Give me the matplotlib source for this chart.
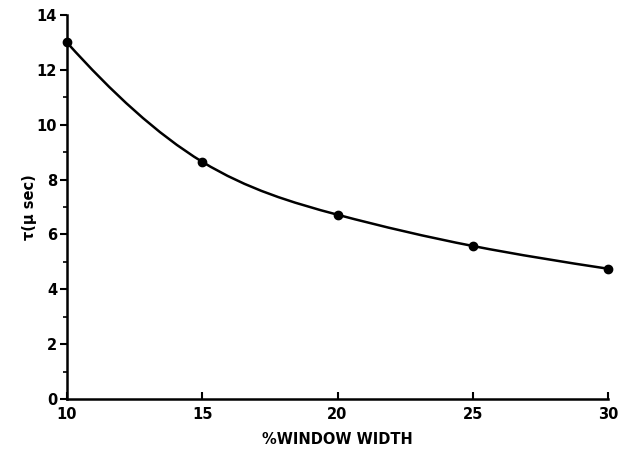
import numpy as np
import matplotlib
matplotlib.use("Agg")
import matplotlib.pyplot as plt
from matplotlib.path import Path
from matplotlib.patches import PathPatch

window_width = [10, 15, 20, 25, 30]
tau_usec = [13.0, 8.65, 6.72, 5.58, 4.75]
x_ticks = [10, 15, 20, 25, 30]
y_ticks = [0, 2, 4, 6, 8, 10, 12, 14]
end_slopes = (-1.1, -0.15)  # slope of drawn curve at first / last point

plt.rcParams['font.family'] = ['DejaVu Sans']
fig = plt.figure(figsize=(6.25, 4.54), dpi=100)
ax = fig.add_axes([0.107, 0.121, 0.866, 0.846])

# smooth curve: clamped cubic spline through the points, drawn as Bezier segments
x = np.array(window_width, float)
y = np.array(tau_usec, float)
n = len(x)
h = np.diff(x)
A = np.zeros((n, n))
b = np.zeros(n)
A[0, 0] = 1; b[0] = end_slopes[0]
A[-1, -1] = 1; b[-1] = end_slopes[1]
for i in range(1, n - 1):
    A[i, i - 1] = 1 / h[i - 1]
    A[i, i] = 2 * (1 / h[i - 1] + 1 / h[i])
    A[i, i + 1] = 1 / h[i]
    b[i] = 3 * ((y[i] - y[i - 1]) / h[i - 1] ** 2 + (y[i + 1] - y[i]) / h[i] ** 2)
m = np.linalg.solve(A, b)
verts = [(x[0], y[0])]
codes = [Path.MOVETO]
for i in range(n - 1):
    d = h[i] / 3
    verts += [(x[i] + d, y[i] + m[i] * d),
              (x[i + 1] - d, y[i + 1] - m[i + 1] * d),
              (x[i + 1], y[i + 1])]
    codes += [Path.CURVE4] * 3
ax.add_patch(PathPatch(Path(verts, codes), fill=False, lw=1.8, color='black',
                       clip_on=False, zorder=3))
ax.plot(window_width, tau_usec, 'o', color='black', ms=6, clip_on=False, zorder=4)

ax.set_xlim(10, 30)
ax.set_ylim(0, 14)
ax.set_xticks(x_ticks)
ax.set_yticks(y_ticks)
ax.set_yticks(np.arange(1, 14, 2), minor=True)
for s in ['top', 'right']:
    ax.spines[s].set_visible(False)
for s in ['left', 'bottom']:
    ax.spines[s].set_linewidth(1.8)
ax.tick_params(axis='y', which='major', direction='out', length=5, width=1.5,
               labelsize=10.5, pad=2)
ax.tick_params(axis='y', which='minor', direction='out', length=3, width=1.2)
ax.tick_params(axis='x', which='major', direction='in', length=5, width=1.5,
               labelsize=10.5, pad=6)
for lab in ax.get_xticklabels() + ax.get_yticklabels():
    lab.set_fontweight('bold')

ax.set_xlabel('%WINDOW WIDTH', fontsize=10.5, fontweight='bold', labelpad=7)
ax.set_ylabel('τ(μ sec)', fontsize=10.5, fontweight='bold', labelpad=0)

fig.savefig('out.png', dpi=100)
